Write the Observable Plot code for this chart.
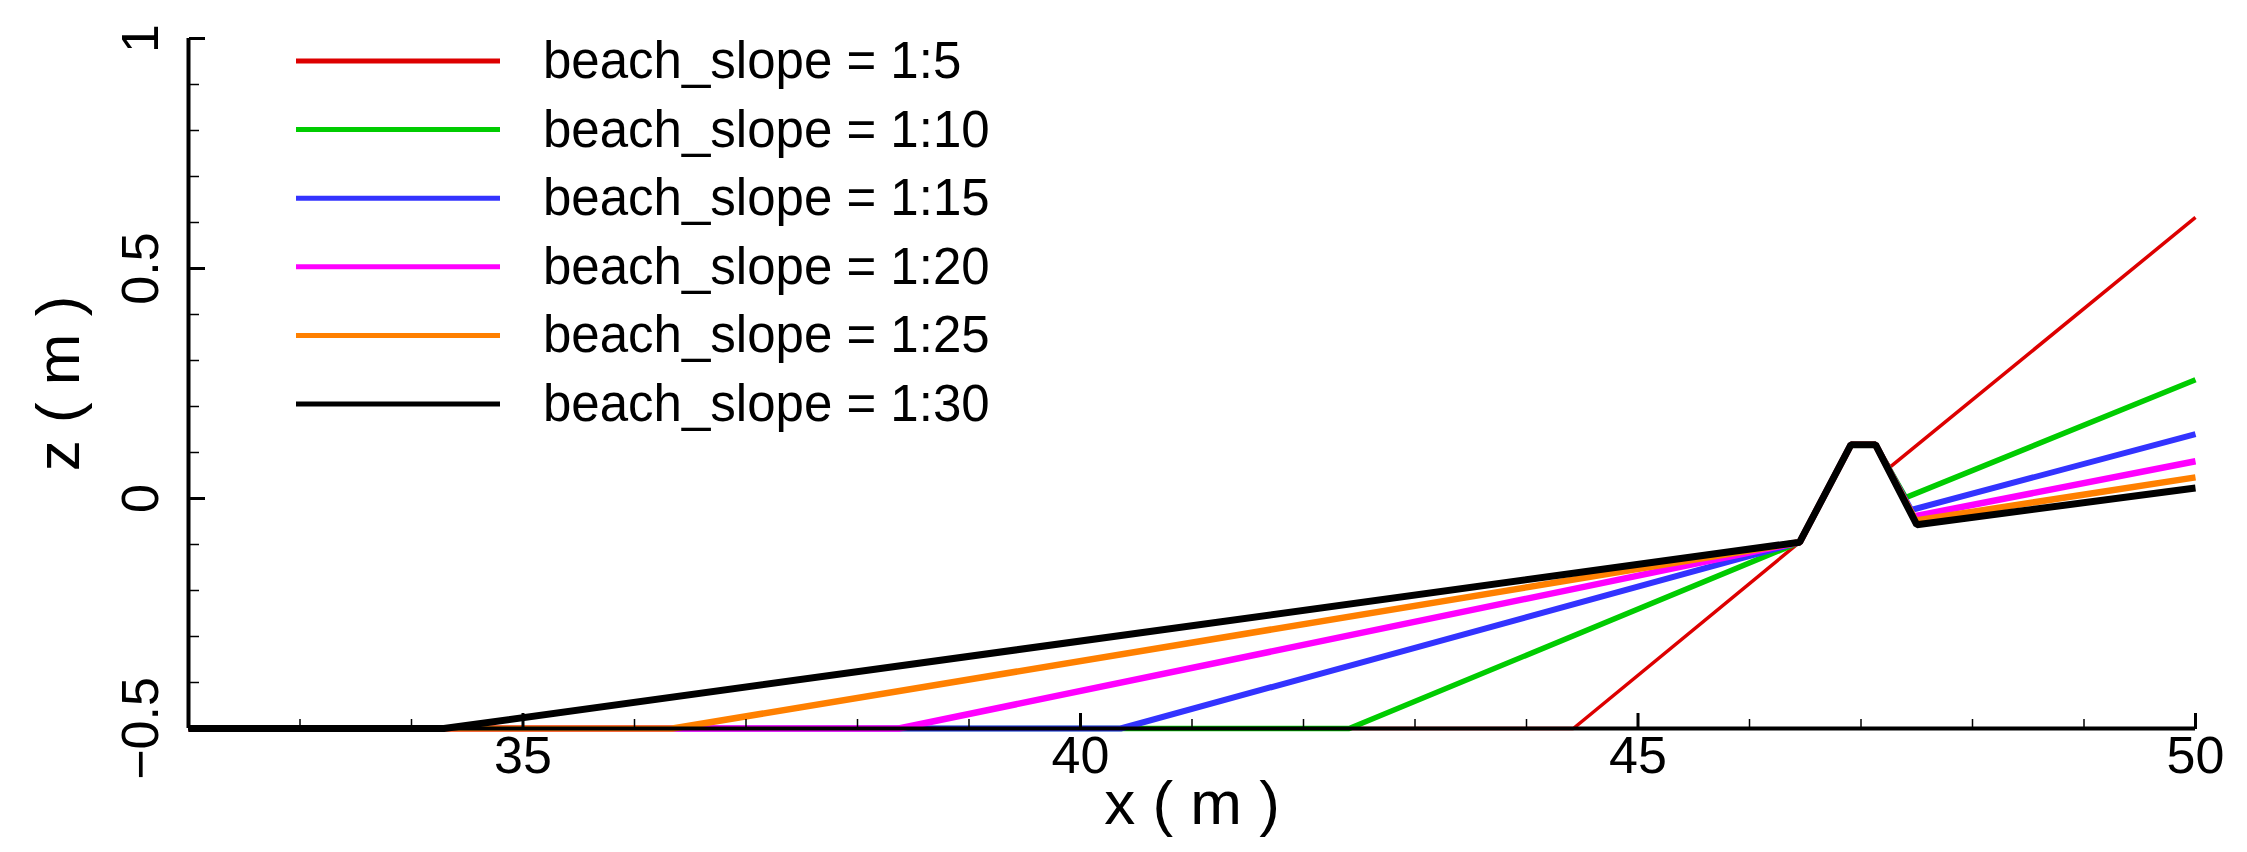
<!DOCTYPE html>
<html>
<head>
<meta charset="utf-8">
<script src="https://cdn.jsdelivr.net/npm/d3@7"></script>
<script src="https://cdn.jsdelivr.net/npm/@observablehq/plot@0.6"></script>
<style>
  html, body { margin: 0; padding: 0; background: #ffffff; }
  #chart { width: 2247px; height: 852px; }
</style>
</head>
<body>
<div id="chart"></div>
<script>
// ---- Data ----
const seriesNames = [
  "beach_slope = 1:5",
  "beach_slope = 1:10",
  "beach_slope = 1:15",
  "beach_slope = 1:20",
  "beach_slope = 1:25",
  "beach_slope = 1:30"
];
// x positions (m) of each profile's vertices
const xSlope5  = [32, 44.42, 46.45, 46.91, 47.13, 47.26, 50];
const xSlope10 = [32, 42.41, 46.45, 46.91, 47.13, 47.40, 50];
const xSlope15 = [32, 40.36, 46.45, 46.91, 47.13, 47.45, 50];
const xSlope20 = [32, 38.37, 46.45, 46.91, 47.13, 47.47, 50];
const xSlope25 = [32, 36.34, 46.45, 46.91, 47.13, 47.49, 50];
const xSlope30 = [32, 34.29, 46.45, 46.91, 47.13, 47.50, 50];
// z elevations (m) of each profile's vertices
const zSlope5  = [-0.5, -0.5, -0.095, 0.117, 0.117, 0.068, 0.611];
const zSlope10 = [-0.5, -0.5, -0.095, 0.117, 0.117, 0.002, 0.258];
const zSlope15 = [-0.5, -0.5, -0.095, 0.117, 0.117, -0.025, 0.140];
const zSlope20 = [-0.5, -0.5, -0.095, 0.117, 0.117, -0.039, 0.081];
const zSlope25 = [-0.5, -0.5, -0.095, 0.117, 0.117, -0.048, 0.046];
const zSlope30 = [-0.5, -0.5, -0.095, 0.117, 0.117, -0.057, 0.023];

const xTickValues = [35, 40, 45, 50];
const xTickLabels = ["35", "40", "45", "50"];
const xMinorTicks = [33, 34, 36, 37, 38, 39, 41, 42, 43, 44, 46, 47, 48, 49];
const yTickValues = [-0.5, 0, 0.5, 1];
const yTickLabels = ["\u22120.5", "0", "0.5", "1"];
const yMinorTicks = [-0.4, -0.3, -0.2, -0.1, 0.1, 0.2, 0.3, 0.4, 0.6, 0.7, 0.8, 0.9];
const xLabel = "x ( m )";
const yLabel = "z ( m )";

// ---- Styles ----
const seriesColors = ["#dd0000", "#00cc00", "#3333ff", "#ff00ff", "#ff8000", "#000000"];
const seriesWidths = [3.5, 5.5, 6, 6.5, 6.5, 7];
const FONT = "'Liberation Sans', Arial, Helvetica, sans-serif";

// ---- Build table ----
const xs = [xSlope5, xSlope10, xSlope15, xSlope20, xSlope25, xSlope30];
const zs = [zSlope5, zSlope10, zSlope15, zSlope20, zSlope25, zSlope30];
const profiles = seriesNames.map((name, i) =>
  xs[i].map((x, j) => ({series: name, x, z: zs[i][j]}))
);

const lineMarks = profiles.map((rows, i) =>
  Plot.line(rows, {
    x: "x", y: "z",
    stroke: seriesColors[i],
    strokeWidth: seriesWidths[i],
    strokeLinejoin: "miter",
    strokeLinecap: "butt"
  })
);

const chart = Plot.plot({
  width: 2247,
  height: 852,
  marginLeft: 188,
  marginRight: 52,
  marginTop: 38,
  marginBottom: 124,
  style: {background: "#ffffff", fontFamily: FONT, color: "#000"},
  x: {domain: [32, 50], axis: null},
  y: {domain: [-0.5, 1], axis: null},
  marks: [
    ...lineMarks,
    // axis lines
    Plot.ruleY([-0.5], {stroke: "#000", strokeWidth: 4}),
    Plot.ruleX([32], {y1: -0.5, y2: 1, stroke: "#000", strokeWidth: 4}),
    // inward ticks (x)
    Plot.axisX(xTickValues, {anchor: "top", frameAnchor: "bottom", tickSize: 16, strokeWidth: 3, tickFormat: () => "", label: null}),
    Plot.axisX(xMinorTicks, {anchor: "top", frameAnchor: "bottom", tickSize: 10, strokeWidth: 1.5, tickFormat: () => "", label: null}),
    // inward ticks (y)
    Plot.axisY(yTickValues, {anchor: "right", frameAnchor: "left", tickSize: 16, strokeWidth: 3, tickFormat: () => "", label: null}),
    Plot.axisY(yMinorTicks, {anchor: "right", frameAnchor: "left", tickSize: 10, strokeWidth: 1.5, tickFormat: () => "", label: null}),
    // tick labels
    Plot.axisX(xTickValues, {anchor: "bottom", tickSize: 0, tickPadding: 8, fontSize: 52, fill: "#000",
      tickFormat: d => xTickLabels[xTickValues.indexOf(d)], label: null}),
    Plot.axisY(yTickValues, {anchor: "left", tickSize: 0, tickPadding: 31, tickRotate: -90, fontSize: 52, fill: "#000",
      tickFormat: d => yTickLabels[yTickValues.indexOf(d)], label: null}),
    // axis titles
    Plot.text([xLabel], {text: d => d, frameAnchor: "bottom", dy: 95, lineAnchor: "bottom", textAnchor: "middle", fontSize: 62, fill: "#000"}),
    Plot.text([yLabel], {text: d => d, frameAnchor: "left", dx: -110, rotate: -90, lineAnchor: "bottom", textAnchor: "middle", fontSize: 62, fill: "#000"})
  ]
});

// ---- Legend inside the plot area (top-left) ----
const svg = d3.select(chart);
const legend = svg.append("g").attr("class", "legend").attr("text-anchor", "start");
seriesNames.forEach((name, i) => {
  const ly = 61 + i * 68.6;
  legend.append("line")
    .attr("x1", 296).attr("x2", 500)
    .attr("y1", ly).attr("y2", ly)
    .attr("stroke", seriesColors[i])
    .attr("stroke-width", 5);
  legend.append("text")
    .attr("x", 543).attr("y", ly + 17)
    .attr("text-anchor", "start")
    .attr("font-family", FONT)
    .attr("font-size", 51)
    .attr("fill", "#000")
    .text(name);
});

document.getElementById("chart").appendChild(chart);
</script>
</body>
</html>
